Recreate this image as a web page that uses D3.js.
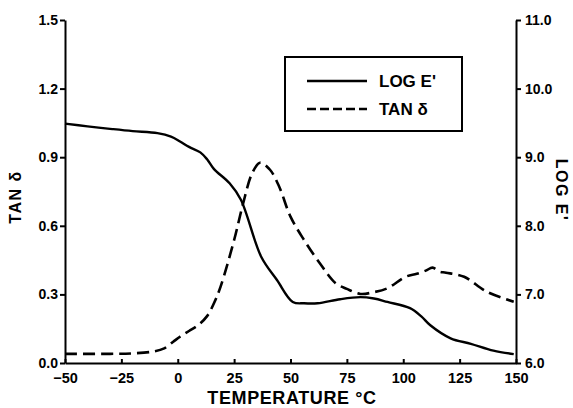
<!DOCTYPE html>
<html>
<head>
<meta charset="utf-8">
<script src="https://cdn.jsdelivr.net/npm/d3@7"></script>
<style>
  body { margin: 0; background: #fff; }
  svg { display: block; font-family: "Liberation Sans", Arial, sans-serif; }
  .axis path, .axis line { stroke: #000; stroke-width: 2; }
  .axis text { font-size: 14px; font-weight: bold; fill: #000; }
</style>
</head>
<body>
<div id="chart"></div>
<script>
// Temperature (°C) and log E'
const tempLog = [-50, -40, -29, -20, -9, -3, 1, 5, 10, 13, 16, 23, 28, 37, 44, 51, 56, 62, 72, 81, 87, 93, 103, 108, 112, 121, 130, 140, 149];
const logE = [9.49, 9.45, 9.41, 9.38, 9.35, 9.30, 9.23, 9.15, 9.07, 8.97, 8.83, 8.62, 8.38, 7.55, 7.21, 6.89, 6.87, 6.87, 6.93, 6.96, 6.94, 6.89, 6.80, 6.68, 6.55, 6.36, 6.28, 6.18, 6.13];

// Temperature (°C) and tan delta
const tempTan = [-50, -30, -20, -11, -6, -2, 1, 5, 9, 13, 16, 19, 25, 29, 33, 36.5, 41, 45, 50, 56, 63, 70, 75, 81, 87, 93, 101, 106, 110, 113, 116, 119, 127, 137, 149];
const tanD = [0.040, 0.040, 0.042, 0.050, 0.064, 0.093, 0.115, 0.14, 0.165, 0.205, 0.26, 0.334, 0.538, 0.698, 0.83, 0.876, 0.844, 0.771, 0.64, 0.538, 0.436, 0.349, 0.324, 0.302, 0.31, 0.327, 0.377, 0.39, 0.404, 0.417, 0.40, 0.395, 0.377, 0.312, 0.268];

// Tick values
const xTicks = [-50, -25, 0, 25, 50, 75, 100, 125, 150];
const tanTicks = [0.0, 0.3, 0.6, 0.9, 1.2, 1.5];
const logTicks = [6, 7, 8, 9, 10, 11];

const legendItems = [
  { label: "LOG E'", dash: null },
  { label: "TAN δ", dash: "9,4" }
];

const width = 573, height = 408;
const margin = { top: 20, right: 57, bottom: 45, left: 65 };

const svg = d3.select("#chart")
  .append("svg")
  .attr("width", width)
  .attr("height", height);

svg.append("rect").attr("width", width).attr("height", height).attr("fill", "#fff");

// Scales
const x = d3.scaleLinear().domain([-50, 150]).range([margin.left, width - margin.right]);
const yTan = d3.scaleLinear().domain([0, 1.5]).range([height - margin.bottom, margin.top]);
const yLog = d3.scaleLinear().domain([6, 11]).range([height - margin.bottom, margin.top]);

// Axes
svg.append("g")
  .attr("class", "axis")
  .attr("transform", `translate(0,${height - margin.bottom})`)
  .call(d3.axisBottom(x).tickValues(xTicks).tickSize(-4).tickSizeOuter(0).tickPadding(10).tickFormat(d3.format("d")))
  .selectAll("text").style("font-size", "14.5px");

svg.append("g")
  .attr("class", "axis")
  .attr("transform", `translate(${margin.left},0)`)
  .call(d3.axisLeft(yTan).tickValues(tanTicks).tickSize(5).tickSizeOuter(0).tickPadding(2).tickFormat(d3.format(".1f")));

svg.append("g")
  .attr("class", "axis")
  .attr("transform", `translate(${width - margin.right},0)`)
  .call(d3.axisRight(yLog).tickValues(logTicks).tickSize(5).tickSizeOuter(0).tickPadding(4).tickFormat(d3.format(".1f")));

// Axis titles
svg.append("text")
  .attr("x", 292)
  .attr("y", 404)
  .attr("text-anchor", "middle")
  .style("font-size", "18px")
  .style("font-weight", "bold")
  .style("letter-spacing", "0.6px")
  .text("TEMPERATURE °C");

svg.append("text")
  .attr("transform", "translate(21,197) rotate(-90)")
  .attr("text-anchor", "middle")
  .style("font-size", "16px")
  .style("font-weight", "bold")
  .style("letter-spacing", "1.5px")
  .text("TAN δ");

svg.append("text")
  .attr("transform", "translate(556,190) rotate(90)")
  .attr("text-anchor", "middle")
  .style("font-size", "16px")
  .style("font-weight", "bold")
  .style("letter-spacing", "1.5px")
  .text("LOG E'");

// Curves
const logLine = d3.line()
  .x((d, i) => x(tempLog[i]))
  .y(d => yLog(d))
  .curve(d3.curveCatmullRom.alpha(0.5));

const tanLine = d3.line()
  .x((d, i) => x(tempTan[i]))
  .y(d => yTan(d))
  .curve(d3.curveCatmullRom.alpha(0.5));

svg.append("path")
  .datum(logE)
  .attr("fill", "none")
  .attr("stroke", "#000")
  .attr("stroke-width", 2.4)
  .attr("d", logLine);

svg.append("path")
  .datum(tanD)
  .attr("fill", "none")
  .attr("stroke", "#000")
  .attr("stroke-width", 2.6)
  .attr("stroke-dasharray", "12,6")
  .attr("d", tanLine);

// Legend
const legend = svg.append("g").attr("transform", "translate(285,57)");
legend.append("rect")
  .attr("width", 177)
  .attr("height", 74)
  .attr("fill", "#fff")
  .attr("stroke", "#000")
  .attr("stroke-width", 2);

const rows = legend.selectAll(".row")
  .data(legendItems)
  .enter()
  .append("g")
  .attr("class", "row")
  .attr("transform", (d, i) => `translate(0,${24 + i * 28})`);

rows.append("line")
  .attr("x1", 22).attr("x2", 82)
  .attr("stroke", "#000")
  .attr("stroke-width", 2.4)
  .attr("stroke-dasharray", d => d.dash);

rows.append("text")
  .attr("x", 94)
  .attr("y", 6)
  .style("font-size", "17px")
  .style("font-weight", "bold")
  .text(d => d.label);
</script>
</body>
</html>
